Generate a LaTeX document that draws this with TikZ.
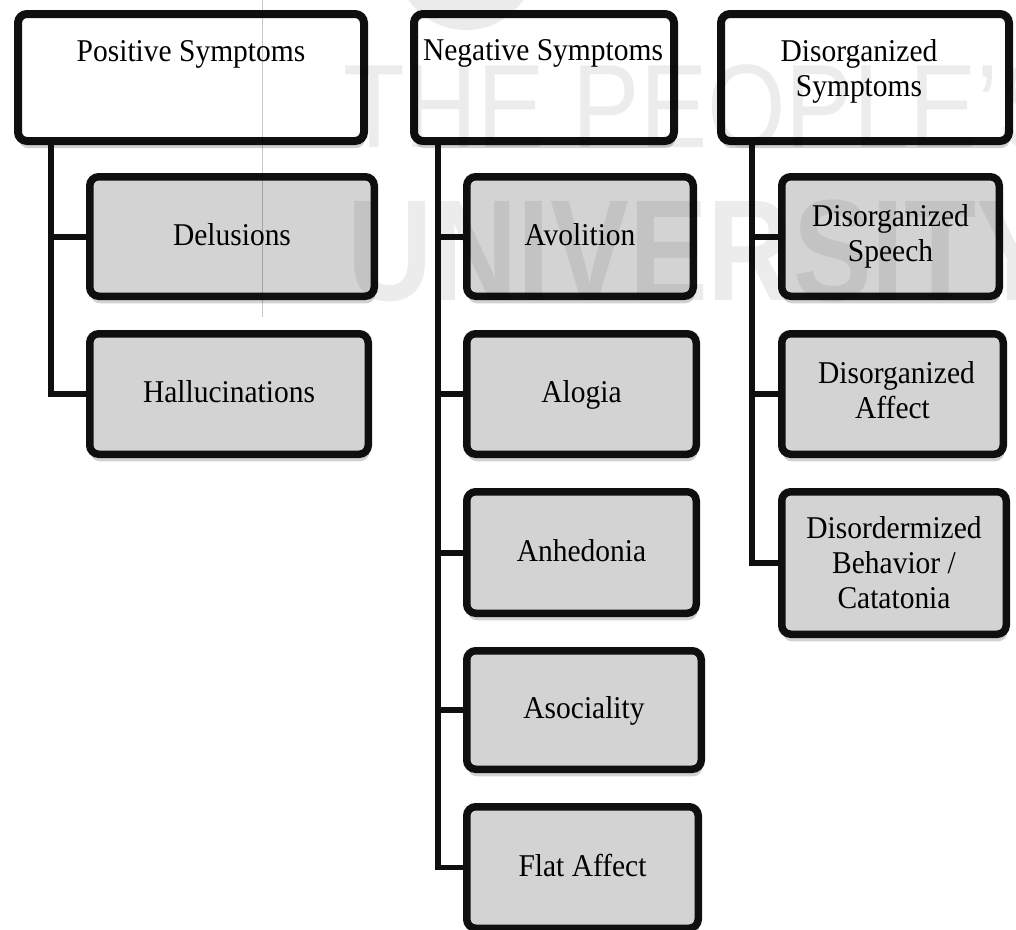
\documentclass[tikz,border=0pt]{standalone}
\usepackage{graphicx}
\usepackage{fontspec}
\setmainfont{Liberation Serif}[FakeStretch=0.93]
\newfontfamily\wmfont{Liberation Sans}
\usetikzlibrary{shadows}
\definecolor{boxgrey}{RGB}{211,211,211}
\definecolor{edge}{RGB}{15,15,15}

\begin{document}
\begin{tikzpicture}[x=1pt,y=-1pt,
  every node/.style={inner sep=0pt, outer sep=0pt},
  boxbase/.style={draw=edge, rounded corners=9pt,
    drop shadow={shadow xshift=1pt, shadow yshift=-7pt, opacity=0.18, fill=black}},
  headbox/.style={boxbase, fill=white, line width=8pt},
  subbox/.style={boxbase, fill=boxgrey, line width=7.5pt, align=center,
    font=\fontsize{31.7}{35}\selectfont},
  oneline/.style={text height=21.5pt, text depth=4pt},
  hdrtext/.style={anchor=north, align=center, font=\fontsize{31.7}{35}\selectfont},
  trunk/.style={draw=edge, line width=5.5pt, line join=miter},
  branch/.style={draw=edge, line width=6pt},
  watermark/.style={text=black, text opacity=0.075}
]
\useasboundingbox (0,0) rectangle (1016,929);

% category headers
\node[headbox, minimum width=346pt, minimum height=127pt] (pos) at (191,77.5) {};
\node[headbox, minimum width=260pt, minimum height=127pt] (neg) at (544,77.5) {};
\node[headbox, minimum width=288pt, minimum height=127pt] (dis) at (865,77.5) {};

\node[hdrtext] (posL) at (191,41) {Positive Symptoms};
\node[hdrtext] (negL) at (543,40) {Negative Symptoms};
\node[hdrtext] (disL) at (859,39.5) {Disorganized\\Symptoms};

% trunk start points on the header bottoms
\coordinate (posT) at (51,141);
\coordinate (negT) at (438,141);
\coordinate (disT) at (752,141);

% positive symptoms
\node[subbox, oneline, minimum width=284.5pt, minimum height=119.5pt] (del) at (232,236.5) {Delusions};
\node[subbox, oneline, minimum width=278.5pt, minimum height=120.5pt] (hal) at (229,394) {Hallucinations};

% negative symptoms
\node[subbox, oneline, minimum width=226.5pt, minimum height=119.5pt] (avo) at (580,236.5) {Avolition};
\node[subbox, oneline, minimum width=229.5pt, minimum height=120.5pt] (alo) at (581.5,394) {Alogia};
\node[subbox, oneline, minimum width=229.5pt, minimum height=121.5pt] (anh) at (581.5,552.5) {Anhedonia};
\node[subbox, oneline, minimum width=234.5pt, minimum height=118.5pt] (aso) at (584,710) {Asociality};
\node[subbox, oneline, minimum width=231.5pt, minimum height=121.5pt] (fla) at (582.5,867.5) {Flat Affect};

% disorganized symptoms
\node[subbox, minimum width=217.5pt, minimum height=119.5pt] (spe) at (890.5,236.5) {Disorganized\\Speech};
\node[subbox, minimum width=221.5pt, minimum height=120.5pt] (aff) at (892.5,394) {\hspace*{8pt}Disorganized\\Affect\rule[-9pt]{0pt}{9pt}};
\node[subbox, minimum width=224.5pt, minimum height=142.5pt] (beh) at (894,563) {Disordermized\\Behavior /\\Catatonia};

% connectors
\draw[trunk] (posT) |- (hal.west);
\draw[branch] (posT |- del.west) -- (del.west);

\draw[trunk] (negT) |- (fla.west);
\draw[branch] (negT |- avo.west) -- (avo.west);
\draw[branch] (negT |- alo.west) -- (alo.west);
\draw[branch] (negT |- anh.west) -- (anh.west);
\draw[branch] (negT |- aso.west) -- (aso.west);

\draw[trunk] (disT) |- (beh.west);
\draw[branch] (disT |- spe.west) -- (spe.west);
\draw[branch] (disT |- aff.west) -- (aff.west);

% faint publisher mark over the chart
\fill[black, opacity=0.08] (466,-40) circle[radius=70];
\draw[black, opacity=0.22, line width=1pt] (262,0) -- (262,317);
\node[watermark, anchor=base west] (wmA) at (343,147)
  {\wmfont\fontsize{118.7}{120}\selectfont\scalebox{0.85}[1]{THE PEOPLE’S}};
\node[watermark, anchor=base west] (wmB) at (347,300)
  {\wmfont\bfseries\fontsize{144}{146}\selectfont\scalebox{0.82}[1]{UNIVERSITY}};
\end{tikzpicture}
\end{document}
